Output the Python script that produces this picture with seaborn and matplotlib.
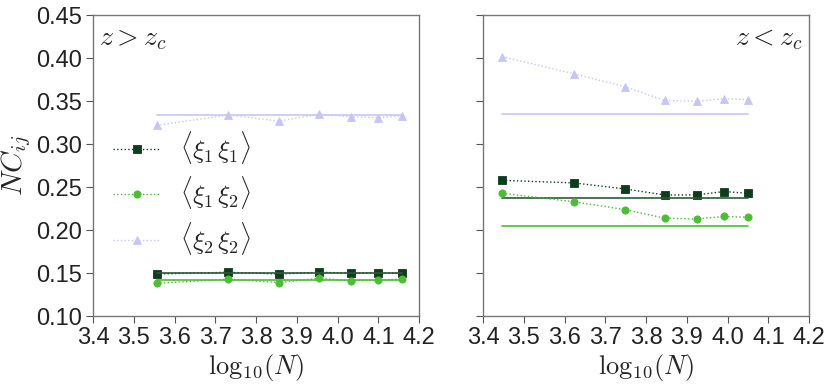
import numpy as np
import pandas as pd
import matplotlib
matplotlib.use("Agg")
import matplotlib.pyplot as plt
import seaborn as sns

# ---- data ----
x_above = [3.556, 3.732, 3.857, 3.954, 4.033, 4.100, 4.158]
x_below = [3.447, 3.623, 3.748, 3.845, 3.924, 3.991, 4.049]

above_11 = [0.149, 0.151, 0.149, 0.151, 0.150, 0.150, 0.150]
above_12 = [0.138, 0.143, 0.139, 0.144, 0.141, 0.142, 0.143]
above_22 = [0.322, 0.334, 0.327, 0.335, 0.332, 0.331, 0.333]
above_ref = [0.1505, 0.1423, 0.3345]

below_11 = [0.258, 0.255, 0.248, 0.241, 0.241, 0.245, 0.243]
below_12 = [0.243, 0.233, 0.224, 0.214, 0.213, 0.216, 0.215]
below_22 = [0.402, 0.382, 0.367, 0.351, 0.350, 0.353, 0.352]
below_ref = [0.2376, 0.2050, 0.3348]

labels = [r"$\langle\xi_1\,\xi_1\rangle$", r"$\langle\xi_1\,\xi_2\rangle$", r"$\langle\xi_2\,\xi_2\rangle$"]
colors = ["#0d3d1c", "#4dbd33", "#c6c6f6"]
ref_colors = ["#2a5a36", "#4dbd33", "#c6c6f6"]
markers = ["s", "o", "^"]
xticks = [3.4, 3.5, 3.6, 3.7, 3.8, 3.9, 4.0, 4.1, 4.2]
yticks = [0.10, 0.15, 0.20, 0.25, 0.30, 0.35, 0.40, 0.45]

sns.set_theme(style="ticks")
plt.rcParams["font.family"] = ["Liberation Sans", "DejaVu Sans"]
plt.rcParams["mathtext.fontset"] = "cm"

fig = plt.figure(figsize=(8.3, 3.85), dpi=100)
axL = fig.add_axes([0.112, 0.179, 0.393, 0.781])
axR = fig.add_axes([0.582, 0.179, 0.393, 0.781], sharey=axL)

def draw(ax, xs, series, refs, legend):
    for i, (ys, lab) in enumerate(zip(series, labels)):
        df = pd.DataFrame({"x": xs, "y": ys})
        sns.lineplot(data=df, x="x", y="y", ax=ax, color=colors[i], linestyle=":",
                     linewidth=1.0, marker=markers[i], markersize=5.2,
                     markeredgewidth=0.6, markeredgecolor=colors[i],
                     label=lab if legend else None, legend=False)
        rdf = pd.DataFrame({"x": [min(xs), max(xs)], "y": [refs[i], refs[i]]})
        sns.lineplot(data=rdf, x="x", y="y", ax=ax, color=ref_colors[i],
                     linewidth=1.2, legend=False)

draw(axL, x_above, [above_11, above_12, above_22], above_ref, True)
draw(axR, x_below, [below_11, below_12, below_22], below_ref, False)

for ax in (axL, axR):
    ax.set_xlim(3.4, 4.2)
    ax.set_ylim(0.10, 0.45)
    ax.set_xticks(xticks)
    ax.set_xticklabels([f"{t:.1f}" for t in xticks])
    ax.set_yticks(yticks)
    ax.tick_params(axis="both", labelsize=17, color="#555555", length=5, width=0.8,
                   labelcolor="#222222", pad=3)
    for sp in ax.spines.values():
        sp.set_color("#777777")
        sp.set_linewidth(1.0)
    ax.set_xlabel(r"$\mathrm{log}_{10}(N)$", fontsize=19, labelpad=2)
    ax.set_ylabel("")

axL.set_yticklabels([f"{t:.2f}" for t in yticks])
axL.set_ylabel(r"$NC_{ij}$", fontsize=21, labelpad=2)
axR.tick_params(axis="y", labelleft=False)

axL.text(0.02, 0.965, r"$z>z_c$", transform=axL.transAxes, fontsize=20,
         ha="left", va="top")
axR.text(0.98, 0.965, r"$z<z_c$", transform=axR.transAxes, fontsize=20,
         ha="right", va="top")

leg = axL.legend(loc="center left", bbox_to_anchor=(0.061, 0.41), frameon=False,
                 fontsize=18.5, handlelength=1.85, handletextpad=0.75, labelspacing=0.33,
                 borderpad=0, borderaxespad=0)

fig.savefig("out.png", dpi=100)
